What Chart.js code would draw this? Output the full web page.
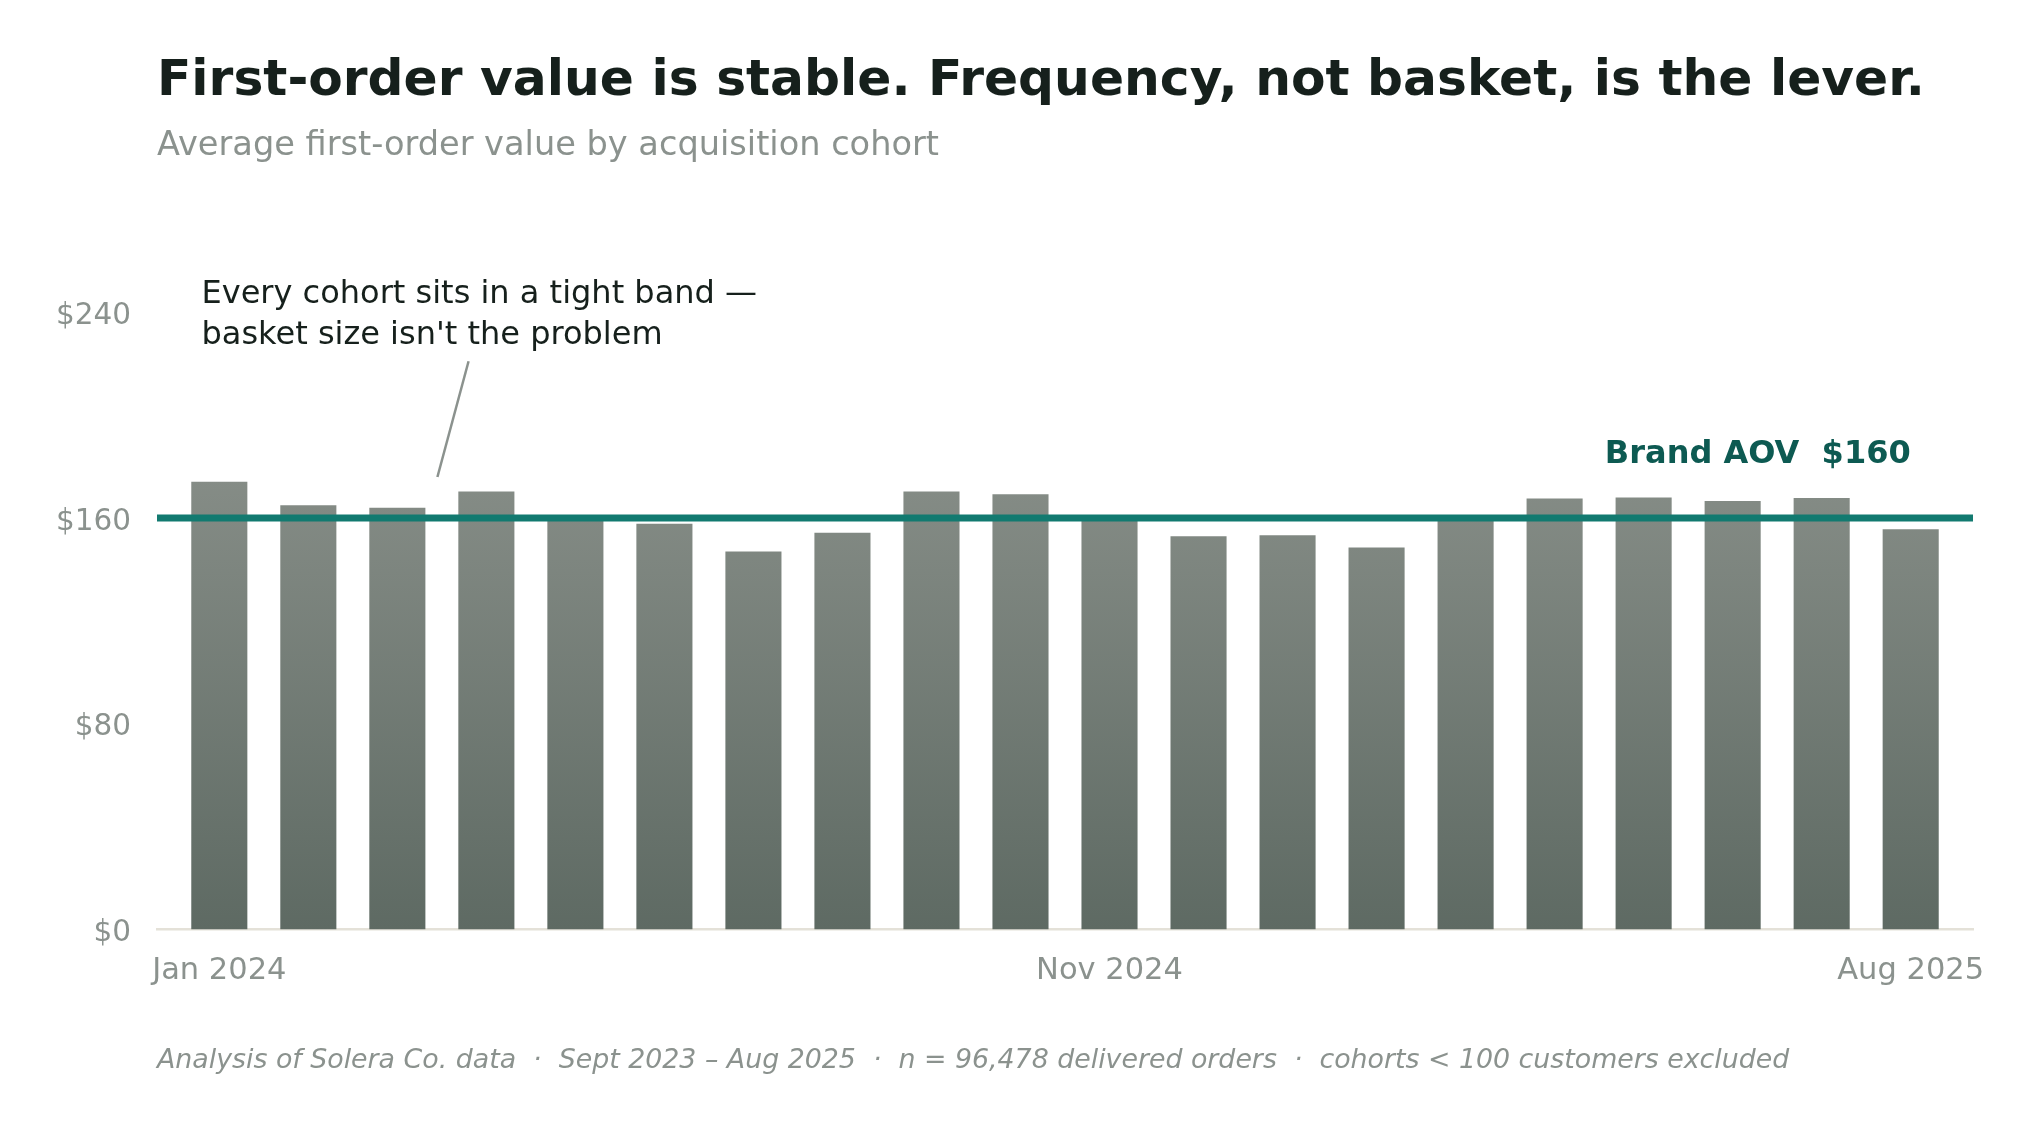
<!DOCTYPE html>
<html>
<head>
<meta charset="utf-8">
<title>First-order value by cohort</title>
<script src="https://cdn.jsdelivr.net/npm/chart.js@4.4.1/dist/chart.umd.min.js"></script>
<style>
  html, body { margin: 0; padding: 0; background: #ffffff; }
  canvas { display: block; }
</style>
</head>
<body>
<canvas id="chart" width="2039" height="1127"></canvas>
<script>
// cohort months (Jan 2024 .. Aug 2025)
const cohorts = [
  "Jan 2024", "Feb 2024", "Mar 2024", "Apr 2024", "May 2024", "Jun 2024", "Jul 2024",
  "Aug 2024", "Sep 2024", "Oct 2024", "Nov 2024", "Dec 2024", "Jan 2025", "Feb 2025",
  "Mar 2025", "Apr 2025", "May 2025", "Jun 2025", "Jul 2025", "Aug 2025",
];
// average first-order value, $
const firstOrderValue = [
  174.1, 165.0, 164.0, 170.4, 159.6, 157.8, 147.0, 154.3, 170.4, 169.3,
  160.4, 152.9, 153.3, 148.6, 160.9, 167.6, 168.0, 166.7, 167.8, 155.7,
];
const brandAov = 160;
const xTickIdx = [0, 10, 19];
const yTicks = [0, 80, 160, 240];

const FONT = "'DejaVu Sans', 'Liberation Sans', sans-serif";
const GREY = "#8b928e";
const INK = "#16201c";
const TEAL = "#127a70";
const TEAL_DARK = "#0d5a52";

Chart.defaults.font.family = FONT;
Chart.defaults.color = GREY;

// titles, reference line, annotation
const decor = {
  id: "decor",
  afterDatasetsDraw(chart) {
    const { ctx, chartArea: { left, right }, scales: { x, y } } = chart;
    ctx.save();

    // brand AOV line
    const yRef = y.getPixelForValue(brandAov);
    ctx.strokeStyle = TEAL;
    ctx.lineWidth = 7;
    ctx.beginPath();
    ctx.moveTo(left, yRef);
    ctx.lineTo(right, yRef);
    ctx.stroke();

    ctx.fillStyle = TEAL_DARK;
    ctx.font = "bold 32px " + FONT;
    ctx.textAlign = "right";
    ctx.textBaseline = "middle";
    ctx.fillText("Brand AOV  $" + brandAov, x.getPixelForValue(19), y.getPixelForValue(186) + 3);

    // callout
    ctx.fillStyle = INK;
    ctx.font = "32px " + FONT;
    ctx.textAlign = "left";
    ctx.fillText("Every cohort sits in a tight band \u2014", x.getPixelForValue(-0.2), y.getPixelForValue(248.2) + 3);
    ctx.fillText("basket size isn't the problem", x.getPixelForValue(-0.2), y.getPixelForValue(232) + 3);
    ctx.strokeStyle = GREY;
    ctx.lineWidth = 2.5;
    ctx.beginPath();
    ctx.moveTo(x.getPixelForValue(2.8), y.getPixelForValue(221));
    ctx.lineTo(x.getPixelForValue(2.45), y.getPixelForValue(176));
    ctx.stroke();

    // title block + footer
    ctx.fillStyle = INK;
    ctx.font = "bold 50.3px " + FONT;
    ctx.fillText("First-order value is stable. Frequency, not basket, is the lever.", 157, 82);
    ctx.fillStyle = GREY;
    ctx.font = "33.6px " + FONT;
    ctx.fillText("Average first-order value by acquisition cohort", 157, 146);
    ctx.font = "italic 26.8px " + FONT;
    ctx.fillText("Analysis of Solera Co. data  \u00b7  Sept 2023 \u2013 Aug 2025  \u00b7  n = 96,478 delivered orders  \u00b7  cohorts < 100 customers excluded", 157, 1061);

    ctx.restore();
  },
};

new Chart(document.getElementById("chart"), {
  type: "bar",
  data: {
    datasets: [{
      data: firstOrderValue.map((v, i) => ({ x: i, y: v })),
      backgroundColor(c) {
        const { ctx, chartArea, scales } = c.chart;
        if (!chartArea) return "#737c76";
        const g = ctx.createLinearGradient(0, scales.y.getPixelForValue(175), 0, scales.y.getPixelForValue(0));
        g.addColorStop(0, "#858c86");
        g.addColorStop(1, "#5e6a63");
        return g;
      },
      borderWidth: 0,
      barPercentage: 0.63,
      categoryPercentage: 1,
    }],
  },
  options: {
    responsive: false,
    animation: false,
    devicePixelRatio: 1,
    layout: { padding: { top: 261, right: 66, bottom: 137.5, left: 0 } },
    plugins: { legend: { display: false }, tooltip: { enabled: false } },
    scales: {
      x: {
        type: "linear",
        min: -0.7, max: 19.7,
        offset: false,
        grid: { display: false, drawTicks: false, offset: false },
        border: { display: true, color: "#e4e1d8", width: 2.5 },
        afterBuildTicks(s) { s.ticks = xTickIdx.map((v) => ({ value: v })); },
        afterFit(s) { s.height = 60; },
        ticks: {
          autoSkip: false, maxRotation: 0, padding: 23,
          color: GREY, font: { size: 30.5 },
          callback: (v) => cohorts[v],
        },
      },
      y: {
        min: 0, max: 260,
        grid: { display: false, drawTicks: false },
        border: { display: false },
        afterBuildTicks(s) { s.ticks = yTicks.map((v) => ({ value: v })); },
        afterFit(s) { s.width = 157; },
        ticks: { padding: 26, labelOffset: 4, color: GREY, font: { size: 29.5 }, callback: (v) => "$" + v },
      },
    },
  },
  plugins: [decor],
});
</script>
</body>
</html>
